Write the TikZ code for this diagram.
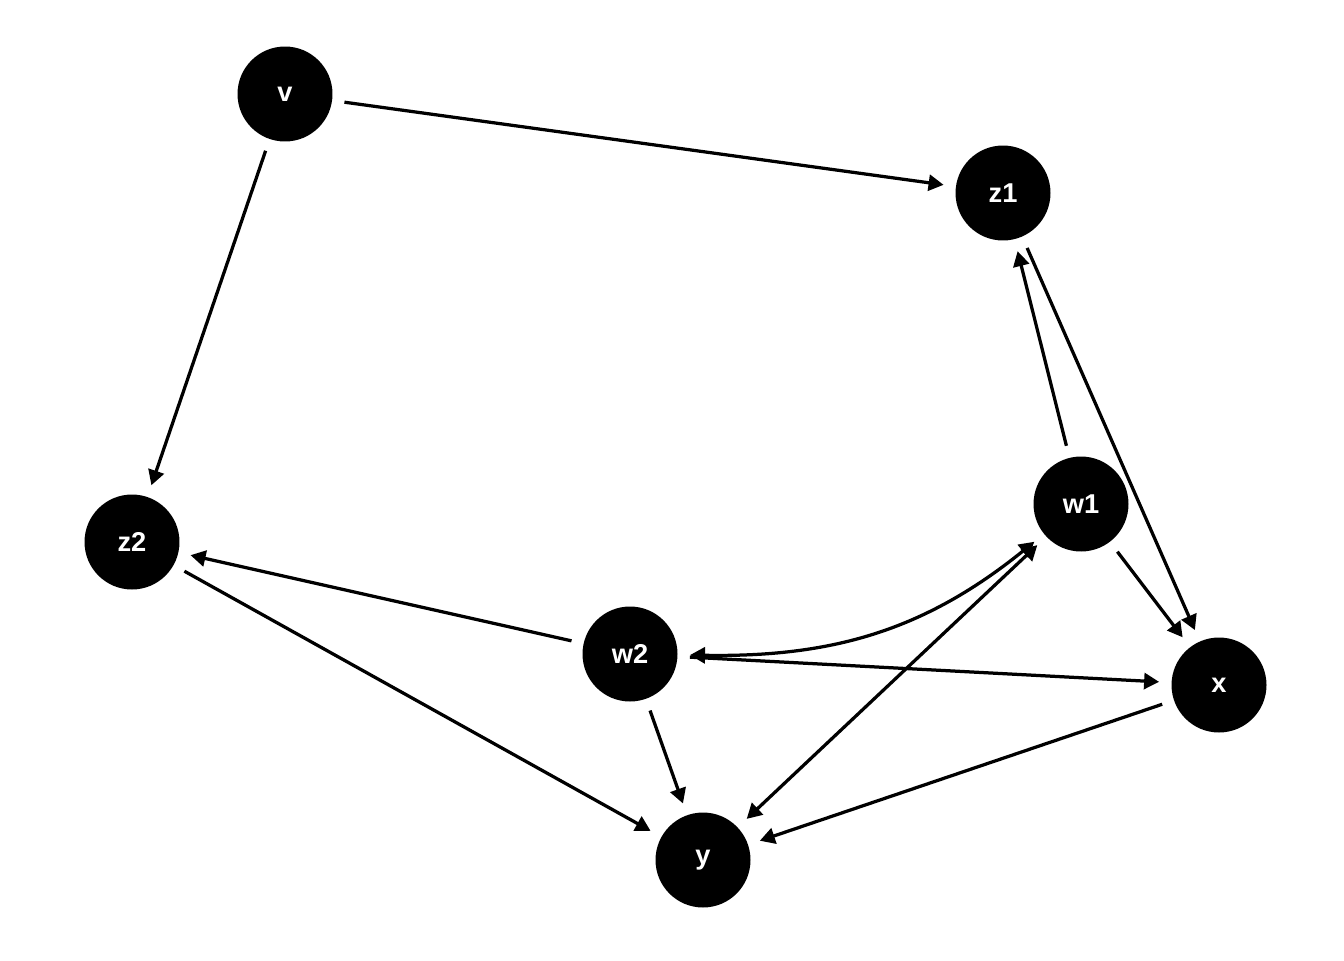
\documentclass[tikz,border=0pt]{standalone}
\usepackage{fontspec}
\setmainfont{Liberation Sans}
\usetikzlibrary{arrows.meta}

\begin{document}
\begin{tikzpicture}[x=0.02cm, y=-0.02cm,
  dagnode/.style={circle, fill=black, text=white, minimum size=1.9cm, inner sep=0pt,
    outer sep=0.25cm, font=\fontsize{15.5}{18}\selectfont\bfseries},
  dagedge/.style={line width=0.065cm, -{Triangle[length=0.3cm,width=0.32cm]}},
  bidir/.style={line width=0.065cm, {Triangle[length=0.3cm,width=0.32cm]}-{Triangle[length=0.3cm,width=0.32cm]}}]

\useasboundingbox (0,0) rectangle (1344,960);

% Nodes
\foreach \name/\px/\py in {v/285/94, z1/1003/193, z2/132/542, w1/1081/504, w2/630/654, x/1219/685, y/703/860}
  \node[dagnode] (\name) at (\px,\py) {\name};

% Directed edges
\foreach \i/\j in {v/z1, v/z2, z1/x, w1/z1, w1/x, w2/z2, w2/y, w2/x, z2/y, x/y}
  \draw[dagedge] (\i) -- (\j);

% Bidirected edges
\draw[bidir] (y) -- (w1);
\draw[bidir] (w2) to[out=-1, in=219] (w1);

\end{tikzpicture}
\end{document}
